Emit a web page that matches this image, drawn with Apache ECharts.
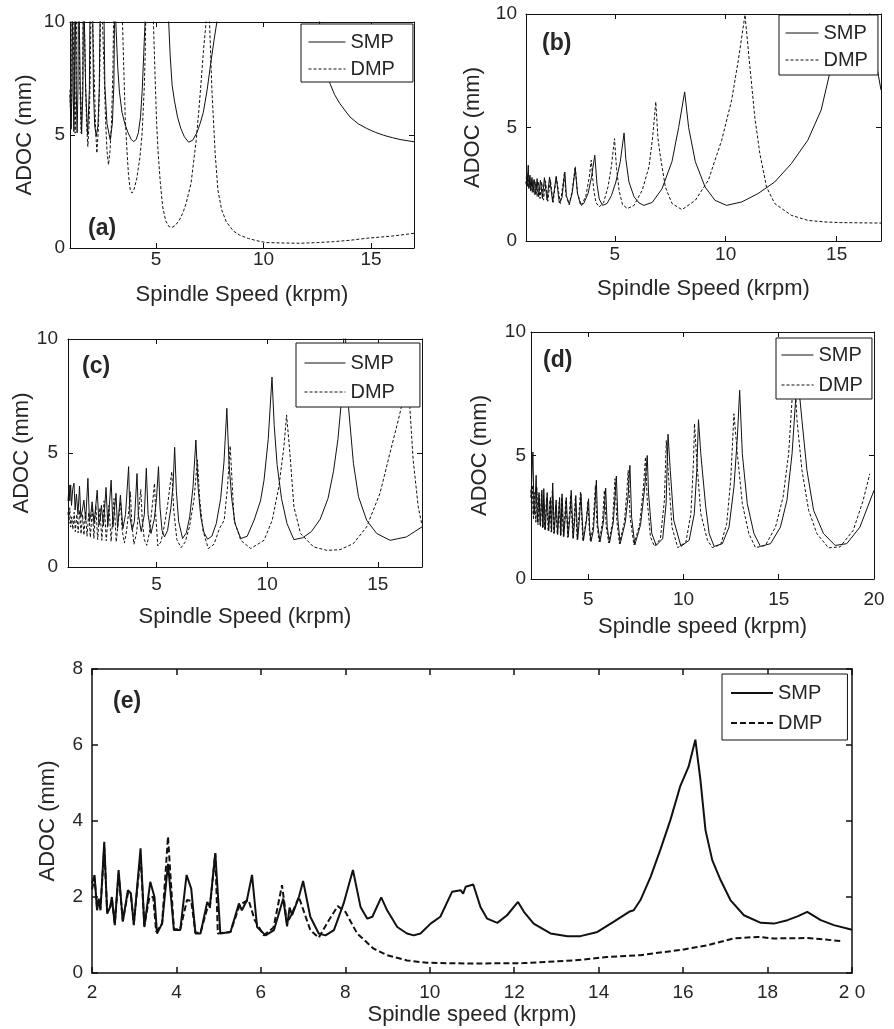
<!DOCTYPE html>
<html>
<head>
<meta charset="utf-8">
<script src="https://cdn.jsdelivr.net/npm/echarts@6/dist/echarts.min.js"></script>
<style>
html, body { margin: 0; padding: 0; background: #fff; }
#chart { width: 894px; height: 1029px; }
</style>
</head>
<body>
<div id="chart"></div>
<script>
// tick values
const ticks1to17 = [5, 10, 15];
const ticks2to20 = [5, 10, 15, 20];
const ticksE = [2, 4, 6, 8, 10, 12, 14, 16, 18, 20];
const yTicks10 = [0, 5, 10];
const yTicks8 = [0, 2, 4, 6, 8];

// (a)  values above 10 run off the top of the box
const smpA = [
  [1.00, 6.8], [1.05, 5.25], [1.09, 6.8], [1.11, 12],
  [1.14, 12], [1.15, 7.0], [1.18, 5.15], [1.21, 7.0], [1.23, 12],
  [1.27, 12], [1.29, 7.0], [1.33, 5.1], [1.37, 7.0], [1.40, 12],
  [1.45, 12], [1.48, 7.0], [1.54, 5.05], [1.60, 7.0], [1.63, 12],
  [1.69, 12], [1.73, 7.0], [1.82, 5.0], [1.90, 7.0], [1.94, 12],
  [2.04, 12], [2.09, 7.0], [2.15, 5.4], [2.22, 4.95], [2.30, 5.4], [2.36, 7.0], [2.42, 12],
  [2.56, 12], [2.62, 7.2], [2.72, 5.5], [2.87, 4.79], [2.97, 5.5], [3.04, 7.2], [3.09, 12],
  [3.12, 12], [3.13, 10], [3.22, 8.0], [3.30, 6.9], [3.42, 6.0], [3.55, 5.5], [3.70, 5.1], [3.85, 4.8], [3.96, 4.71],
  [4.08, 4.8], [4.18, 5.1], [4.28, 5.8], [4.36, 7.0], [4.43, 8.6], [4.49, 10], [4.52, 12],
  [5.55, 12], [5.59, 10], [5.66, 8.5], [5.75, 7.2], [5.86, 6.5], [6.00, 5.8], [6.15, 5.3], [6.32, 4.92], [6.52, 4.68],
  [6.71, 4.77], [6.90, 5.1], [7.05, 5.5], [7.20, 6.0], [7.38, 7.0], [7.55, 8.2], [7.70, 9.2], [7.83, 10], [7.90, 12],
  [12.45, 12], [12.60, 10], [12.85, 8.4], [13.09, 7.28], [13.30, 6.8], [13.55, 6.39], [14.02, 5.80], [14.40, 5.50],
  [14.80, 5.29], [15.20, 5.12], [15.58, 4.99], [16.00, 4.88], [16.35, 4.80], [17.00, 4.70]
];
const dmpA = [
  [1.00, 7.0], [1.04, 5.3], [1.08, 7.0], [1.10, 12],
  [1.17, 12], [1.19, 7.5], [1.24, 5.08], [1.29, 7.5], [1.31, 12],
  [1.42, 12], [1.45, 7.5], [1.52, 5.08], [1.59, 7.5], [1.62, 12],
  [1.68, 12], [1.72, 7.5], [1.77, 5.5], [1.83, 4.49], [1.89, 5.5], [1.94, 7.5], [1.99, 12],
  [2.08, 12], [2.13, 7.5], [2.19, 5.3], [2.25, 4.2], [2.32, 5.3], [2.38, 7.5], [2.44, 12],
  [2.52, 12], [2.58, 8.0], [2.66, 5.5], [2.72, 4.3], [2.79, 3.68], [2.86, 4.3], [2.93, 5.5], [3.00, 8.0], [3.05, 12],
  [3.42, 12], [3.44, 10], [3.50, 8.0], [3.57, 5.74], [3.65, 4.3], [3.72, 3.24], [3.80, 2.6], [3.88, 2.43], [3.98, 2.6],
  [4.11, 3.09], [4.25, 4.0], [4.35, 5.0], [4.45, 7.0], [4.50, 8.7], [4.52, 10], [4.55, 12],
  [4.85, 12], [4.88, 10], [4.95, 7.8], [5.03, 5.5], [5.10, 4.2], [5.20, 2.9], [5.31, 1.83], [5.45, 1.2], [5.60, 0.95],
  [5.75, 0.91], [5.90, 1.0], [6.09, 1.24], [6.25, 1.55], [6.40, 1.97], [6.63, 2.86], [6.87, 4.77], [7.02, 6.39],
  [7.21, 8.75], [7.33, 10], [7.38, 12],
  [7.45, 12], [7.49, 10], [7.60, 7.0], [7.75, 4.2], [7.88, 2.56], [8.05, 1.7], [8.27, 1.16], [8.60, 0.75], [8.89, 0.57],
  [9.30, 0.42], [9.70, 0.32], [10.13, 0.24], [11.00, 0.22], [11.69, 0.21], [12.50, 0.24], [13.24, 0.28], [14.00, 0.34],
  [14.80, 0.43], [16.00, 0.53], [17.00, 0.65]
];

// (b)
const smpB = [
  [1.00, 2.6], [1.05, 2.45], [1.10, 3.34], [1.14, 2.35], [1.18, 2.9], [1.22, 2.25], [1.27, 2.8], [1.32, 2.15],
  [1.38, 2.7], [1.44, 2.05], [1.50, 2.75], [1.57, 1.95], [1.65, 2.68], [1.74, 1.87], [1.83, 2.79], [1.95, 1.8],
  [2.06, 2.82], [2.20, 1.72], [2.36, 2.85], [2.50, 1.68], [2.62, 1.9], [2.75, 3.04], [2.82, 2.0], [2.95, 1.62],
  [3.08, 2.1], [3.22, 3.2], [3.32, 2.1], [3.45, 1.62], [3.60, 1.65], [3.80, 2.1], [3.95, 2.8], [4.10, 3.78],
  [4.20, 2.5], [4.30, 1.85], [4.45, 1.57], [4.65, 1.65], [4.85, 2.0], [5.05, 2.6], [5.25, 3.5], [5.42, 4.76],
  [5.50, 3.6], [5.64, 2.6], [5.87, 1.95], [6.09, 1.68], [6.31, 1.57], [6.69, 1.70], [7.13, 2.30], [7.58, 3.50],
  [7.88, 5.00], [8.15, 6.57], [8.33, 5.00], [8.63, 3.50], [9.07, 2.38], [9.52, 1.79], [10.04, 1.57], [10.72, 1.72],
  [11.46, 2.09], [12.21, 2.60], [12.96, 3.41], [13.70, 4.44], [14.30, 5.76], [14.67, 7.31], [15.20, 8.9],
  [15.80, 10.6], [16.30, 11.8], [16.65, 8.5], [16.84, 7.53], [17.00, 6.65]
];
const dmpB = [
  [1.00, 2.5], [1.03, 3.0], [1.06, 2.4], [1.09, 2.9], [1.12, 2.3], [1.16, 2.8], [1.20, 2.2], [1.24, 2.7],
  [1.28, 2.12], [1.33, 2.7], [1.38, 2.05], [1.44, 2.6], [1.50, 1.95], [1.56, 2.6], [1.63, 1.87], [1.71, 2.6],
  [1.79, 1.8], [1.88, 2.65], [1.98, 1.75], [2.10, 2.7], [2.22, 1.7], [2.37, 2.8], [2.55, 1.65], [2.73, 3.0],
  [2.80, 2.0], [2.95, 1.6], [3.08, 2.2], [3.22, 3.29], [3.32, 2.1], [3.50, 1.55], [3.70, 2.0], [3.85, 2.8],
  [3.94, 3.56], [4.05, 2.3], [4.15, 1.7], [4.30, 1.50], [4.50, 1.7], [4.70, 2.4], [4.85, 3.3], [4.99, 4.51],
  [5.08, 3.2], [5.20, 2.2], [5.35, 1.6], [5.57, 1.43], [5.87, 1.57], [6.24, 2.24], [6.54, 3.26], [6.70, 4.5],
  [6.85, 6.13], [6.95, 4.5], [7.06, 3.71], [7.28, 2.38], [7.58, 1.65], [8.03, 1.38], [8.63, 1.79], [9.22, 2.68],
  [9.82, 4.44], [10.27, 6.21], [10.57, 7.97], [10.87, 9.96], [11.09, 7.68], [11.31, 5.47], [11.54, 3.85],
  [11.84, 2.38], [12.21, 1.65], [12.96, 1.13], [13.70, 0.91], [14.45, 0.84], [15.19, 0.81], [17.00, 0.79]
];

// (c)
const smpC = [
  [1.00, 2.9], [1.05, 3.6], [1.08, 2.9], [1.12, 3.6], [1.16, 2.7], [1.21, 3.4], [1.27, 3.67], [1.32, 2.5],
  [1.38, 3.2], [1.45, 2.3], [1.52, 3.55], [1.58, 2.2], [1.65, 2.5], [1.72, 2.93], [1.80, 2.05], [1.90, 3.89],
  [1.97, 2.0], [2.03, 2.3], [2.09, 2.86], [2.18, 1.9], [2.32, 3.37], [2.40, 1.85], [2.46, 2.1], [2.51, 2.71],
  [2.60, 1.8], [2.72, 3.49], [2.80, 1.78], [2.95, 3.81], [3.03, 1.75], [3.17, 3.23], [3.24, 1.72], [3.37, 3.15],
  [3.48, 1.68], [3.60, 2.3], [3.74, 4.4], [3.80, 2.2], [3.90, 1.62], [4.00, 2.0], [4.12, 4.1], [4.18, 2.3],
  [4.31, 1.55], [4.45, 2.3], [4.54, 4.33], [4.62, 2.3], [4.75, 1.47], [4.90, 2.1], [5.00, 3.0], [5.09, 4.4],
  [5.16, 2.6], [5.25, 1.6], [5.36, 1.32], [5.50, 1.6], [5.65, 2.6], [5.75, 3.6], [5.82, 5.25], [5.90, 3.3],
  [6.00, 2.0], [6.18, 1.25], [6.35, 1.5], [6.50, 2.2], [6.65, 3.5], [6.78, 5.57], [6.88, 3.5], [7.00, 2.2],
  [7.15, 1.5], [7.31, 1.22], [7.50, 1.35], [7.70, 1.9], [7.90, 3.0], [8.05, 4.6], [8.18, 6.96], [8.28, 4.5],
  [8.40, 3.0], [8.55, 1.9], [8.81, 1.25], [9.10, 1.35], [9.41, 2.05], [9.70, 2.9], [9.86, 3.81], [10.05, 5.6],
  [10.22, 8.33], [10.32, 6.2], [10.45, 4.5], [10.65, 3.0], [10.90, 1.9], [11.21, 1.2], [11.60, 1.28], [12.00, 1.55],
  [12.40, 2.1], [12.75, 3.0], [13.00, 4.2], [13.20, 5.6], [13.35, 7.2], [13.50, 11.0], [13.68, 7.0], [13.90, 4.55],
  [14.13, 3.08], [14.50, 2.05], [14.95, 1.47], [15.56, 1.17], [16.30, 1.32], [17.00, 1.76]
];
const dmpC = [
  [1.00, 2.4], [1.04, 1.9], [1.08, 2.6], [1.12, 1.75], [1.17, 2.2], [1.22, 1.65], [1.28, 2.4], [1.33, 1.55],
  [1.40, 2.3], [1.46, 1.5], [1.53, 2.5], [1.59, 1.45], [1.66, 2.3], [1.72, 1.4], [1.79, 2.4], [1.86, 1.35],
  [1.94, 2.4], [2.01, 1.3], [2.10, 2.6], [2.17, 1.25], [2.26, 2.7], [2.34, 1.2], [2.44, 2.6], [2.53, 1.17],
  [2.63, 2.9], [2.73, 1.15], [2.85, 2.7], [2.95, 1.12], [3.08, 3.0], [3.18, 1.1], [3.30, 2.2], [3.37, 2.85],
  [3.45, 1.6], [3.55, 1.05], [3.65, 1.6], [3.75, 2.5], [3.82, 3.3], [3.88, 2.0], [3.98, 1.0], [4.10, 1.5],
  [4.20, 2.5], [4.29, 3.4], [4.36, 2.0], [4.45, 1.2], [4.56, 0.95], [4.68, 1.5], [4.80, 2.6], [4.91, 3.67],
  [4.97, 2.2], [5.06, 0.92], [5.20, 1.1], [5.35, 1.8], [5.50, 2.7], [5.69, 4.18], [5.78, 2.5], [5.92, 1.2],
  [6.11, 0.85], [6.30, 1.1], [6.50, 1.8], [6.70, 3.0], [6.85, 4.7], [6.95, 3.0], [7.10, 1.6], [7.34, 0.81],
  [7.60, 1.0], [7.85, 1.7], [8.06, 2.05], [8.21, 3.52], [8.33, 5.31], [8.51, 2.05], [8.81, 1.17], [9.26, 0.81],
  [9.86, 1.17], [10.23, 2.05], [10.53, 3.52], [10.76, 5.28], [10.88, 6.67], [11.03, 4.99], [11.21, 2.64],
  [11.51, 1.47], [12.10, 0.88], [12.70, 0.73], [13.30, 0.76], [13.90, 1.03], [14.50, 1.76], [15.10, 3.23],
  [15.55, 4.99], [15.93, 6.45], [16.23, 7.7], [16.32, 8.3], [16.45, 7.0], [16.60, 4.7], [16.83, 2.64], [17.00, 1.83]
];

// (d)
const smpD = [
  [2.00, 3.3], [2.05, 4.2], [2.10, 5.14], [2.16, 2.6], [2.22, 3.2], [2.27, 4.2], [2.33, 2.3], [2.38, 2.9],
  [2.42, 3.5], [2.48, 2.2], [2.53, 2.8], [2.57, 3.6], [2.63, 2.1], [2.67, 3.66], [2.75, 2.0], [2.80, 2.7],
  [2.85, 3.5], [2.93, 1.95], [2.98, 2.6], [3.02, 3.3], [3.08, 1.9], [3.14, 3.89], [3.22, 1.85], [3.28, 2.6],
  [3.32, 3.2], [3.40, 1.8], [3.45, 2.5], [3.50, 3.3], [3.57, 1.78], [3.63, 3.45], [3.72, 1.72], [3.80, 2.5],
  [3.85, 3.3], [3.95, 1.7], [4.05, 2.6], [4.11, 3.59], [4.22, 1.65], [4.30, 2.5], [4.35, 3.38], [4.45, 1.6],
  [4.55, 2.5], [4.62, 3.45], [4.75, 1.55], [4.90, 2.3], [5.02, 3.25], [5.08, 2.0], [5.15, 1.52], [5.28, 2.0],
  [5.43, 4.0], [5.50, 2.2], [5.62, 1.5], [5.80, 2.3], [5.92, 3.68], [6.00, 2.1], [6.12, 1.46], [6.32, 2.3],
  [6.48, 4.17], [6.56, 2.4], [6.68, 1.43], [6.95, 2.3], [7.10, 3.4], [7.19, 4.6], [7.28, 2.5], [7.45, 1.38],
  [7.75, 2.2], [7.98, 3.8], [8.10, 5.0], [8.17, 3.45], [8.34, 1.84], [8.57, 1.36], [8.91, 1.63], [9.09, 3.05],
  [9.19, 5.86], [9.31, 4.40], [9.49, 2.38], [9.87, 1.32], [10.30, 1.57], [10.57, 2.64], [10.70, 4.40],
  [10.79, 6.45], [10.91, 5.07], [11.17, 2.91], [11.35, 1.84], [11.61, 1.32], [12.04, 1.43], [12.39, 2.10],
  [12.65, 3.72], [12.83, 5.75], [12.95, 7.64], [13.09, 5.07], [13.35, 3.05], [13.70, 1.84], [14.04, 1.32],
  [14.57, 1.43], [15.09, 2.10], [15.43, 3.18], [15.70, 5.07], [15.90, 7.4], [16.02, 8.4], [16.10, 7.4],
  [16.22, 6.42], [16.48, 4.40], [16.83, 2.78], [17.35, 1.84], [17.96, 1.36], [18.57, 1.43], [19.26, 2.10],
  [20.00, 3.59]
];
const dmpD = [
  [2.00, 3.6], [2.04, 2.6], [2.08, 3.8], [2.13, 2.4], [2.19, 3.5], [2.25, 2.3], [2.31, 3.7], [2.37, 2.2],
  [2.44, 3.4], [2.50, 2.1], [2.55, 3.5], [2.61, 2.05], [2.65, 3.4], [2.72, 2.0], [2.82, 3.3], [2.90, 1.95],
  [3.00, 3.2], [3.06, 1.9], [3.12, 3.6], [3.20, 1.85], [3.30, 3.0], [3.38, 1.8], [3.48, 3.1], [3.55, 1.75],
  [3.61, 3.3], [3.70, 1.72], [3.83, 3.2], [3.93, 1.68], [4.08, 3.4], [4.20, 1.65], [4.33, 3.3], [4.42, 1.6],
  [4.60, 3.55], [4.72, 1.55], [4.90, 2.4], [4.99, 3.15], [5.06, 2.0], [5.12, 1.52], [5.25, 2.1], [5.38, 3.79],
  [5.46, 2.2], [5.58, 1.5], [5.75, 2.3], [5.85, 3.59], [5.95, 2.1], [6.08, 1.46], [6.28, 2.3], [6.41, 4.06],
  [6.50, 2.4], [6.64, 1.43], [6.90, 2.3], [7.02, 3.4], [7.10, 4.4], [7.20, 2.5], [7.40, 1.38], [7.70, 2.2],
  [7.90, 3.7], [8.01, 4.94], [8.10, 3.18], [8.27, 1.70], [8.48, 1.32], [8.79, 1.63], [9.00, 3.18], [9.10, 5.61],
  [9.23, 4.00], [9.40, 2.10], [9.70, 1.27], [10.13, 1.50], [10.39, 2.64], [10.53, 4.80], [10.58, 6.29],
  [10.70, 4.80], [10.91, 2.64], [11.26, 1.57], [11.52, 1.27], [11.96, 1.40], [12.27, 2.24], [12.48, 4.00],
  [12.65, 6.69], [12.83, 5.07], [13.09, 3.05], [13.43, 1.84], [13.78, 1.27], [14.30, 1.36], [14.83, 2.10],
  [15.23, 3.32], [15.52, 5.07], [15.70, 7.26], [15.85, 8.1], [15.96, 6.42], [16.22, 4.40], [16.57, 2.78],
  [17.00, 1.84], [17.61, 1.26], [18.22, 1.30], [18.91, 1.97], [19.43, 3.18], [19.78, 4.26]
];

// (e)
const smpE = [
  [2.00, 2.36], [2.06, 2.58], [2.12, 1.65], [2.16, 1.96], [2.20, 1.65], [2.29, 3.45], [2.36, 1.56], [2.43, 1.74],
  [2.47, 2.0], [2.54, 1.26], [2.63, 2.71], [2.73, 1.35], [2.85, 2.18], [2.92, 2.1], [2.99, 1.26], [3.15, 3.28],
  [3.24, 1.21], [3.38, 2.40], [3.48, 2.0], [3.54, 1.04], [3.66, 1.30], [3.80, 2.87], [3.94, 1.13], [4.09, 1.13],
  [4.24, 2.58], [4.35, 2.22], [4.45, 1.04], [4.57, 1.04], [4.73, 1.87], [4.79, 1.74], [4.92, 3.15], [4.96, 3.15],
  [5.04, 1.04], [5.28, 1.08], [5.48, 1.83], [5.55, 1.65], [5.67, 1.92], [5.79, 2.58], [5.91, 1.21], [6.11, 0.99],
  [6.31, 1.13], [6.53, 1.96], [6.62, 1.23], [6.68, 1.72], [6.74, 1.52], [6.90, 2.0], [7.00, 2.42], [7.17, 1.48],
  [7.37, 1.04], [7.53, 0.99], [7.73, 1.13], [7.96, 1.83], [8.18, 2.71], [8.36, 1.74], [8.52, 1.43], [8.64, 1.48],
  [8.85, 1.99], [8.99, 1.65], [9.23, 1.21], [9.46, 1.04], [9.62, 0.99], [9.78, 1.04], [10.02, 1.30], [10.25, 1.48],
  [10.53, 2.14], [10.73, 2.18], [10.79, 2.09], [10.85, 2.27], [11.03, 2.33], [11.20, 1.74], [11.36, 1.43],
  [11.60, 1.32], [11.83, 1.52], [12.09, 1.87], [12.23, 1.61], [12.46, 1.30], [12.86, 1.04], [13.26, 0.97],
  [13.57, 0.97], [13.97, 1.08], [14.36, 1.35], [14.72, 1.61], [14.83, 1.65], [14.99, 1.92], [15.23, 2.53],
  [15.46, 3.24], [15.70, 4.03], [15.93, 4.91], [16.13, 5.43], [16.29, 6.14], [16.41, 5.08], [16.53, 3.76],
  [16.69, 2.97], [16.89, 2.44], [17.12, 1.92], [17.44, 1.52], [17.84, 1.32], [18.15, 1.30], [18.47, 1.39],
  [18.71, 1.49], [18.94, 1.61], [19.26, 1.39], [19.57, 1.26], [20.00, 1.14]
];
const dmpE = [
  [2.00, 2.2], [2.06, 2.5], [2.12, 1.7], [2.16, 1.9], [2.20, 1.7], [2.29, 3.3], [2.36, 1.6], [2.43, 1.7],
  [2.47, 1.95], [2.54, 1.3], [2.63, 2.6], [2.73, 1.38], [2.85, 2.1], [2.92, 2.05], [2.99, 1.3], [3.15, 3.1],
  [3.24, 1.25], [3.36, 2.0], [3.45, 2.0], [3.52, 1.08], [3.66, 1.3], [3.80, 3.59], [3.94, 1.15], [4.09, 1.15],
  [4.25, 1.92], [4.35, 1.9], [4.45, 1.06], [4.57, 1.06], [4.73, 1.7], [4.79, 1.7], [4.92, 3.15], [4.98, 1.04],
  [5.28, 1.08], [5.50, 1.8], [5.71, 1.92], [5.85, 1.4], [6.07, 0.99], [6.30, 1.2], [6.50, 2.31], [6.62, 1.30],
  [6.75, 1.6], [6.90, 2.0], [6.98, 1.74], [7.17, 1.13], [7.37, 0.93], [7.61, 1.39], [7.82, 1.76], [8.00, 1.61],
  [8.28, 1.04], [8.67, 0.64], [8.99, 0.47], [9.46, 0.33], [9.93, 0.27], [10.25, 0.26], [11.04, 0.25],
  [12.22, 0.26], [13.41, 0.33], [14.20, 0.42], [14.99, 0.47], [16.02, 0.62], [16.57, 0.73], [17.20, 0.91],
  [17.76, 0.95], [18.15, 0.91], [18.94, 0.92], [19.77, 0.84]
];

const FONT = 'Liberation Sans, Arial, sans-serif';
const INK = '#262626';
const LINE = '#111';

const panels = [
  { tag: '(a)', smp: smpA, dmp: dmpA, xMin: 1, xMax: 17, yMax: 10, xTicks: ticks1to17, yTicks: yTicks10,
    xName: 'Spindle Speed (krpm)', box: [70, 22, 344, 226], xGap: 36, yGap: 34, xMargin: 2, yMargin: 5,
    legendAt: [301, 24], legendPad: [8, 18, 3, 7], legendLine: 37, legendGap: 7, tagAt: [88, 217] },
  { tag: '(b)', smp: smpB, dmp: dmpB, xMin: 1, xMax: 17, yMax: 10, xTicks: ticks1to17, yTicks: yTicks10,
    xName: 'Spindle Speed (krpm)', box: [526, 14, 355, 227], xGap: 37, yGap: 42, xMargin: 4, yMargin: 9,
    legendAt: [779, 15], legendPad: [8, 10, 5, 6], legendLine: 33, legendGap: 7, tagAt: [542, 32] },
  { tag: '(c)', smp: smpC, dmp: dmpC, xMin: 1, xMax: 17, yMax: 10, xTicks: ticks1to17, yTicks: yTicks10,
    xName: 'Spindle Speed (krpm)', box: [68, 339, 354, 228], xGap: 39, yGap: 32, xMargin: 8, yMargin: 10,
    legendAt: [296, 343], legendPad: [10, 25, 5, 8], legendLine: 41, legendGap: 9, tagAt: [82, 355] },
  { tag: '(d)', smp: smpD, dmp: dmpD, xMin: 2, xMax: 20, yMax: 10, xTicks: ticks2to20, yTicks: yTicks10,
    xName: 'Spindle speed (krpm)', box: [531, 332, 343, 247], xGap: 37, yGap: 40, xMargin: 11, yMargin: 5,
    legendAt: [776, 338], legendPad: [7, 9, 4, 5], legendLine: 32, legendGap: 10, tagAt: [543, 349] },
  { tag: '(e)', smp: smpE, dmp: dmpE, xMin: 2, xMax: 20, yMax: 8, xTicks: ticksE, yTicks: yTicks8,
    xName: 'Spindle speed (krpm)', box: [92, 669, 760, 304], xGap: 31, yGap: 33, xMargin: 10, yMargin: 9,
    legendAt: [722, 674], legendPad: [9, 25, 7, 8], legendLine: 42, legendGap: 10, tagAt: [113, 690], bold: true }
];

const chart = echarts.init(document.getElementById('chart'));
const grids = [], xAxes = [], yAxes = [], series = [], legends = [], tags = [];

panels.forEach((p, i) => {
  const w = p.bold ? 1.5 : 1;
  const lineW = p.bold ? 2 : 1;
  const dash = p.bold ? [6, 3] : [3, 2];
  const axisLine = { show: true, onZero: false, lineStyle: { color: LINE, width: w } };
  const tick = (vals) => ({ show: true, inside: true, length: p.bold ? 6 : 5, customValues: vals,
    lineStyle: { color: LINE, width: w } });

  grids.push({ left: p.box[0], top: p.box[1], width: p.box[2], height: p.box[3], outerBoundsMode: 'none' });

  xAxes.push({
    gridIndex: i, type: 'value', position: 'bottom', min: p.xMin, max: p.xMax,
    axisLine, axisTick: tick(p.xTicks), splitLine: { show: false },
    axisLabel: { customValues: p.xTicks, color: INK, fontSize: 19, fontFamily: FONT, margin: p.xMargin,
      formatter: v => (p.bold && v === 20) ? '2 0' : String(v) },
    name: p.xName, nameLocation: 'middle', nameGap: p.xGap,
    nameTextStyle: { color: INK, fontSize: 22, fontFamily: FONT }
  });
  xAxes.push({
    gridIndex: i, type: 'value', position: 'top', min: p.xMin, max: p.xMax,
    axisLine, axisTick: tick(p.xTicks), axisLabel: { show: false }, splitLine: { show: false }
  });
  yAxes.push({
    gridIndex: i, type: 'value', position: 'left', min: 0, max: p.yMax,
    axisLine, axisTick: tick(p.yTicks), splitLine: { show: false },
    axisLabel: { customValues: p.yTicks, color: INK, fontSize: 19, fontFamily: FONT, margin: p.yMargin },
    name: 'ADOC (mm)', nameLocation: 'middle', nameGap: p.yGap,
    nameTextStyle: { color: INK, fontSize: 22, fontFamily: FONT }
  });
  yAxes.push({
    gridIndex: i, type: 'value', position: 'right', min: 0, max: p.yMax,
    axisLine, axisTick: tick(p.yTicks), axisLabel: { show: false }, splitLine: { show: false }
  });

  series.push({
    name: 'SMP', type: 'line', xAxisIndex: 2 * i, yAxisIndex: 2 * i, data: p.smp,
    symbol: 'none', showSymbol: false, silent: true, color: LINE, itemStyle: { color: LINE },
    lineStyle: { color: LINE, width: lineW, type: 'solid' }
  });
  series.push({
    name: 'DMP', type: 'line', xAxisIndex: 2 * i, yAxisIndex: 2 * i, data: p.dmp,
    symbol: 'none', showSymbol: false, silent: true, color: LINE, itemStyle: { color: LINE },
    lineStyle: { color: LINE, width: lineW, type: dash }
  });

  legends.push({
    left: p.legendAt[0], top: p.legendAt[1], orient: 'vertical',
    padding: p.legendPad, itemGap: p.legendGap, itemWidth: p.legendLine, itemHeight: 14,
    backgroundColor: '#fff', borderColor: LINE, borderWidth: 1, selectedMode: false,
    itemStyle: { opacity: 0, borderWidth: 0 },
    textStyle: { color: INK, fontSize: 20, fontFamily: FONT, lineHeight: 20 },
    data: [
      { name: 'SMP', itemStyle: { opacity: 0 }, lineStyle: { width: lineW, type: 'solid', color: LINE } },
      { name: 'DMP', itemStyle: { opacity: 0 }, lineStyle: { width: lineW, type: dash, color: LINE } }
    ]
  });

  tags.push({
    type: 'text', left: p.tagAt[0], top: p.tagAt[1], z: 10,
    style: { text: p.tag, fill: INK, font: 'bold 23px ' + FONT }
  });
});

chart.setOption({
  backgroundColor: '#fff',
  animation: false,
  grid: grids,
  xAxis: xAxes,
  yAxis: yAxes,
  legend: legends,
  series: series,
  graphic: tags
});
</script>
</body>
</html>
